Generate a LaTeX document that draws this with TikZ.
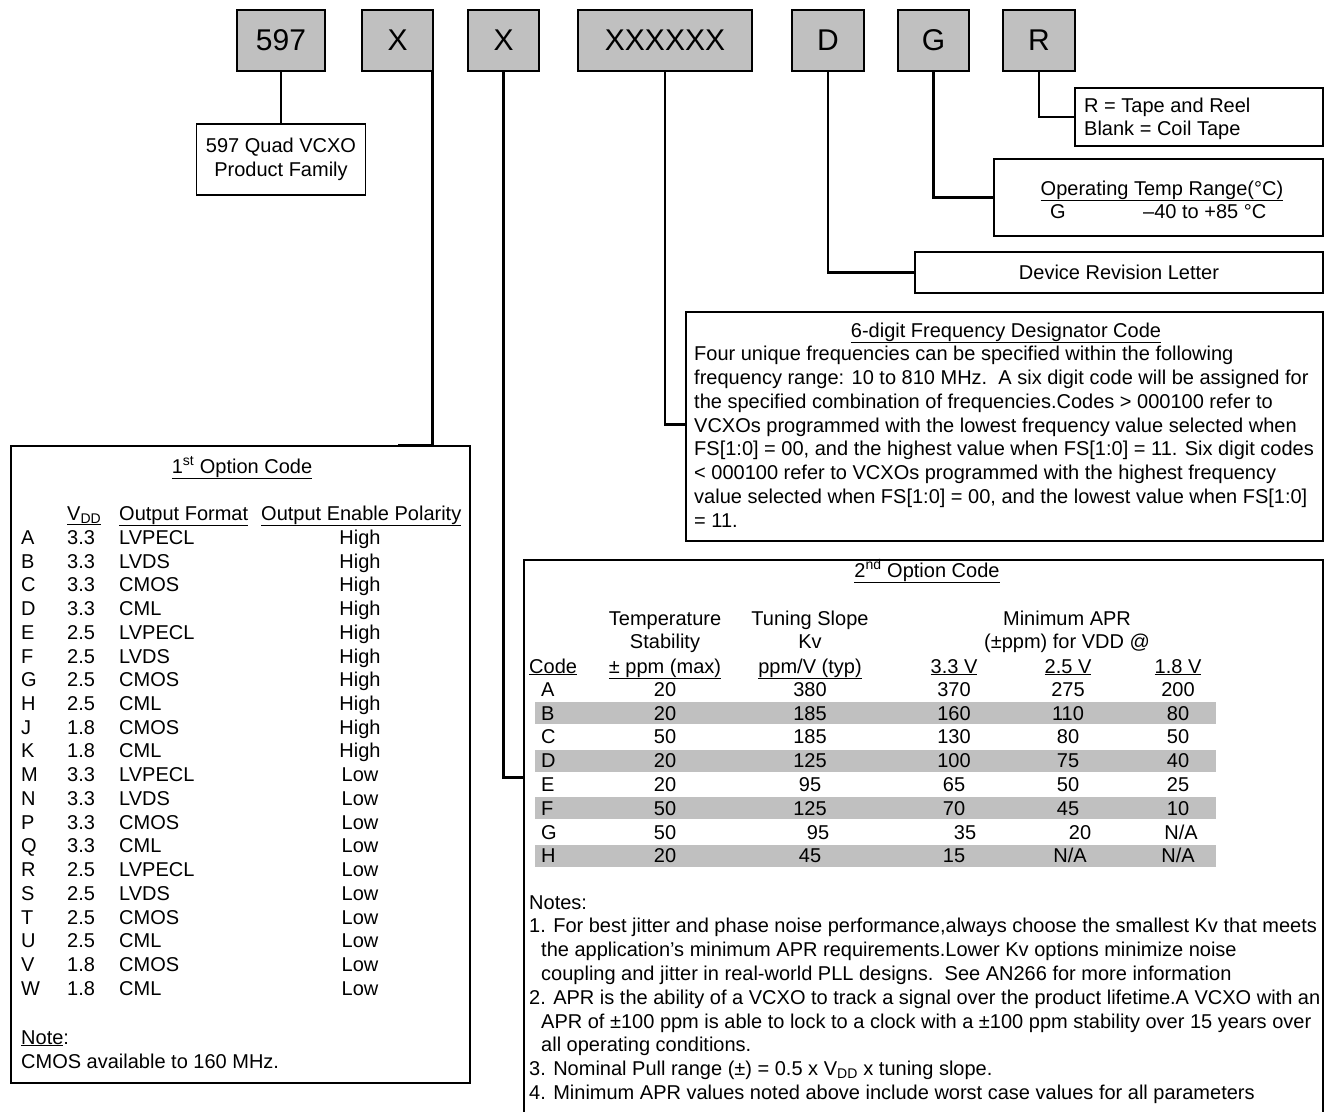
\documentclass[tikz,border=0pt]{standalone}
\usepackage{fontspec}
\setmainfont{Liberation Sans}
\usetikzlibrary{positioning,calc}
\definecolor{boxgray}{HTML}{C0C0C0}

\begin{document}
\begin{tikzpicture}[
  x=1pt, y=-1pt,
  font=\fontsize{20}{24}\selectfont,
  tbox/.style={draw, fill=boxgray, line width=1.1pt, minimum height=61pt,
               inner sep=0pt, font=\fontsize{30}{36}\selectfont},
  dbox/.style={draw, line width=1.1pt, inner sep=0pt, align=center},
  conn/.style={line width=2.6pt},
  txt/.style={anchor=base west, inner sep=0pt},
  ctxt/.style={anchor=base, inner sep=0pt},
  stripe/.style={fill=boxgray, inner sep=0pt, minimum height=22pt,
                 minimum width=681.5pt}
]
\path[use as bounding box] (0,0) rectangle (1327,1111);
\clip (0,0) rectangle (1327,1111);

% ---- part number fields ------------------------------------------------
\node[tbox, minimum width=88pt]  (p597)  at (281,40.5)    {597};
\node[tbox, minimum width=71pt]  (x1)    at (397.5,40.5)  {X};
\node[tbox, minimum width=71pt]  (x2)    at (503.5,40.5)  {X};
\node[tbox, minimum width=174pt] (code6) at (665,40.5)    {XXXXXX};
\node[tbox, minimum width=72pt]  (d)     at (828,40.5)    {D};
\node[tbox, minimum width=71pt]  (g)     at (933.5,40.5)  {G};
\node[tbox, minimum width=72pt]  (r)     at (1039,40.5)   {R};

% ---- descriptions ------------------------------------------------------
\node[dbox, minimum width=169pt, minimum height=71pt] (family) at (281,159.5)
  {597 Quad VCXO\\Product Family};
\node[dbox, minimum width=248pt, minimum height=58pt] (reel) at (1199,117) {};
\node[txt] (reel1) at (1084,112) {R = Tape and Reel};
\node[txt] (reel2) at (1084,135.5) {Blank = Coil Tape};
\node[dbox, minimum width=329pt, minimum height=77pt] (temp) at (1158.5,197.5) {};
\node[ctxt] (temp1) at (1162,195) {\underline{Operating Temp Range(°C)}};
\node[ctxt] (temp2) at (1058,218) {G};
\node[txt]  (temp3) at (1143,218) {--40 to +85 °C};
\node[dbox, minimum width=408pt, minimum height=41pt] (rev) at (1119,272.5)
  {Device Revision Letter};

% ---- frequency code ----------------------------------------------------
\node[dbox, minimum width=637pt, minimum height=229pt] (freq) at (1004.5,426.5) {};
\node[ctxt] (fq0) at (1006,337) {\underline{6-digit Frequency Designator Code}};
\node[txt] (fq1) at (694,360.5) {Four unique frequencies can be specified within the following};
\node[txt] (fq2) at (694,384.3) {frequency range: 10 to 810 MHz.\ \ A six digit code will be assigned for};
\node[txt] (fq3) at (694,408.2) {the specified combination of frequencies.Codes > 000100 refer to};
\node[txt] (fq4) at (694,432) {VCXOs programmed with the lowest frequency value selected when};
\node[txt] (fq5) at (694,455.9) {FS[1:0] = 00, and the highest value when FS[1:0] = 11. Six digit codes};
\node[txt] (fq6) at (694,479.7) {< 000100 refer to VCXOs programmed with the highest frequency};
\node[txt] (fq7) at (694,503.6) {value selected when FS[1:0] = 00, and the lowest value when FS[1:0]};
\node[txt] (fq8) at (694,527.4) {= 11.};

% ---- 1st option code ---------------------------------------------------
\node[dbox, minimum width=459pt, minimum height=637pt] (opt1) at (240.5,764.5) {};
\node[ctxt] (t1) at (242,473) {\underline{1\textsuperscript{st} Option Code}};
\node[txt] (h1a) at (67,520) {\underline{V\textsubscript{DD}}};
\node[txt] (h1b) at (119,520) {\underline{Output Format}};
\node[txt] (h1c) at (261,520) {\underline{Output Enable Polarity}};
\foreach \c/\v/\f/\p [count=\i from 0] in {A/3.3/LVPECL/High, B/3.3/LVDS/High,
    C/3.3/CMOS/High, D/3.3/CML/High, E/2.5/LVPECL/High, F/2.5/LVDS/High,
    G/2.5/CMOS/High, H/2.5/CML/High, J/1.8/CMOS/High, K/1.8/CML/High,
    M/3.3/LVPECL/Low, N/3.3/LVDS/Low, P/3.3/CMOS/Low, Q/3.3/CML/Low,
    R/2.5/LVPECL/Low, S/2.5/LVDS/Low, T/2.5/CMOS/Low, U/2.5/CML/Low,
    V/1.8/CMOS/Low, W/1.8/CML/Low} {
  \node[txt]  (oa\i) at (21,{544.3+\i*23.74})  {\c};
  \node[txt]  (ob\i) at (67,{544.3+\i*23.74})  {\v};
  \node[txt]  (oc\i) at (119,{544.3+\i*23.74}) {\f};
  \node[ctxt] (od\i) at (360,{544.3+\i*23.74}) {\p};
}
\node[txt] (n1a) at (21,1044) {\underline{Note}:};
\node[txt] (n1b) at (21,1068) {CMOS available to 160 MHz.};

% ---- 2nd option code ---------------------------------------------------
\node[dbox, minimum width=799pt, minimum height=560pt] (opt2) at (923.5,840) {};
\node[ctxt] (t2) at (927,577) {\underline{2\textsuperscript{nd} Option Code}};
\node[ctxt] (h2a) at (665,625) {Temperature};
\node[ctxt] (h2b) at (665,648) {Stability};
\node[ctxt] (h2c) at (665,673) {\underline{± ppm (max)}};
\node[ctxt] (h2d) at (810,625) {Tuning Slope};
\node[ctxt] (h2e) at (810,648) {Kv};
\node[ctxt] (h2f) at (810,673) {\underline{ppm/V (typ)}};
\node[ctxt] (h2g) at (1067,625) {Minimum APR};
\node[ctxt] (h2h) at (1067,648) {(±ppm) for VDD @};
\node[txt]  (h2i) at (529,673) {\underline{Code}};
\node[ctxt] (h2j) at (954,673) {\underline{3.3 V}};
\node[ctxt] (h2k) at (1068,673) {\underline{2.5 V}};
\node[ctxt] (h2l) at (1178,673) {\underline{1.8 V}};
\foreach \k in {1,3,5,7}
  \node[stripe] (s\k) at (875.25,{689.3+\k*23.8}) {};
\foreach \c/\a/\b/\e/\f/\g [count=\i from 0] in {A/20/380/370/275/200,
    B/20/185/160/110/80, C/50/185/130/80/50, D/20/125/100/75/40,
    E/20/95/65/50/25, F/50/125/70/45/10} {
  \node[txt]  (ka\i) at (541,{696.3+\i*23.8})  {\c};
  \node[ctxt] (kb\i) at (665,{696.3+\i*23.8})  {\a};
  \node[ctxt] (kc\i) at (810,{696.3+\i*23.8})  {\b};
  \node[ctxt] (kd\i) at (954,{696.3+\i*23.8})  {\e};
  \node[ctxt] (ke\i) at (1068,{696.3+\i*23.8}) {\f};
  \node[ctxt] (kf\i) at (1178,{696.3+\i*23.8}) {\g};
}
% row G sits a little to the right
\node[txt]  (ka6) at (541,839.1)  {G};
\node[ctxt] (kb6) at (665,839.1)  {50};
\node[ctxt] (kc6) at (818,839.1)  {95};
\node[ctxt] (kd6) at (965,839.1)  {35};
\node[ctxt] (ke6) at (1080,839.1) {20};
\node[ctxt] (kf6) at (1181,839.1) {N/A};
\node[txt]  (ka7) at (541,862.9)  {H};
\node[ctxt] (kb7) at (665,862.9)  {20};
\node[ctxt] (kc7) at (810,862.9)  {45};
\node[ctxt] (kd7) at (954,862.9)  {15};
\node[ctxt] (ke7) at (1070,862.9) {N/A};
\node[ctxt] (kf7) at (1178,862.9) {N/A};

% notes
\node[txt] (m0) at (529,909)  {Notes:};
\node[txt] (m1) at (529,932.8) {1. For best jitter and phase noise performance,always choose the smallest Kv that meets};
\node[txt] (m2) at (541,956.6) {the application’s minimum APR requirements.Lower Kv options minimize noise};
\node[txt] (m3) at (541,980.4) {coupling and jitter in real-world PLL designs.\ \ See AN266 for more information};
\node[txt] (m4) at (529,1004.2) {2. APR is the ability of a VCXO to track a signal over the product lifetime.A VCXO with an};
\node[txt] (m5) at (541,1028) {APR of ±100 ppm is able to lock to a clock with a ±100 ppm stability over 15 years over};
\node[txt] (m6) at (541,1051.8) {all operating conditions.};
\node[txt] (m7) at (529,1075.6) {3. Nominal Pull range (±) = 0.5 x V\textsubscript{DD} x tuning slope.};
\node[txt] (m8) at (529,1099.4) {4. Minimum APR values noted above include worst case values for all parameters};

% ---- connectors --------------------------------------------------------
\draw[conn] (p597.south) -- (family.north);
\draw[conn] ([xshift=-1.3pt]x1.south east) |- ([xshift=-73pt]opt1.north east);
\draw[conn] (x2.south) |- ([yshift=-218pt]opt2.north west);
\draw[conn] (code6.south) |- ([yshift=-113pt]freq.north west);
\draw[conn] (d.south) |- (rev.west);
\draw[conn] (g.south) |- (temp.west);
\draw[conn] (r.south) |- (reel.west);
\end{tikzpicture}
\end{document}
